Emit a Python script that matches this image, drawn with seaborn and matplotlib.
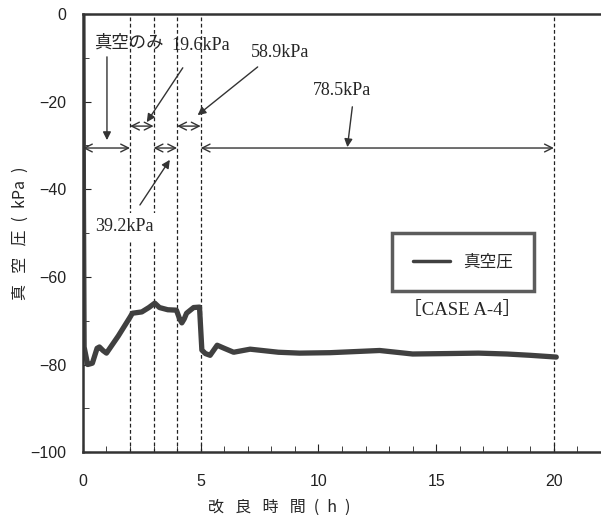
import numpy as np
import pandas as pd
import matplotlib
matplotlib.use("Agg")
import matplotlib.pyplot as plt
import seaborn as sns

# vacuum pressure curve (time h, pressure kPa)
time_h = [0.0, 0.02, 0.05, 0.2, 0.4, 0.6, 0.7, 0.85, 1.0, 1.5, 2.0, 2.1, 2.5, 2.8, 3.05,
          3.25, 3.6, 3.97, 4.1, 4.2, 4.3, 4.4, 4.7, 4.95, 5.05, 5.2, 5.4, 5.7, 6.0,
          6.4, 7.1, 8.3, 9.2, 10.5, 12.6, 14.0, 15.5, 16.8, 18.0, 19.0, 20.1]
pressure = [0.0, -40.0, -76.0, -80.0, -79.7, -76.3, -76.0, -76.8, -77.4, -73.5, -69.2,
            -68.3, -68.0, -67.0, -66.0, -67.0, -67.5, -67.6, -69.5, -70.5, -69.6, -68.3,
            -67.0, -66.9, -76.7, -77.5, -77.9, -75.6, -76.3, -77.2, -76.5, -77.2, -77.4,
            -77.3, -76.8, -77.6, -77.5, -77.4, -77.6, -77.9, -78.3]
stage_bounds = [2, 3, 4, 5, 20]
stage_labels = ["真空のみ", "19.6kPa", "39.2kPa", "58.9kPa", "78.5kPa"]

df = pd.DataFrame({"t": time_h, "p": pressure})

sns.set_style("ticks")
plt.rcParams["font.family"] = ["Noto Sans CJK JP", "DejaVu Sans"]
serif = ["Liberation Serif", "DejaVu Serif"]

fig = plt.figure(figsize=(6.01, 5.15), dpi=100)
ax = fig.add_axes([0.138, 0.122, 0.862, 0.851])

sns.lineplot(data=df, x="t", y="p", sort=False, color="#404040", lw=3.8,
             label="真空圧", ax=ax)

for b in stage_bounds:
    ax.axvline(b, color="#222222", lw=0.9, ls=(0, (3, 2)), zorder=1)

ax.set_xlim(0, 22)
ax.set_ylim(-100, 0)
ax.set_xticks([0, 5, 10, 15, 20])
ax.set_xticks(range(0, 23), minor=True)
ax.set_yticks(range(-100, 1, 20))
ax.set_yticks(range(-100, 1, 10), minor=True)
ax.tick_params(which="both", direction="in", colors="#222222", labelsize=11.5)
ax.tick_params(axis="x", which="major", length=6, pad=16)
ax.tick_params(axis="x", which="minor", length=4)
ax.tick_params(axis="y", which="major", length=6, pad=12)
ax.tick_params(axis="y", which="minor", length=4)
for lab in ax.get_xticklabels() + ax.get_yticklabels():
    lab.set_family(["Liberation Sans", "DejaVu Sans"])
ax.set_yticklabels(["−100", "−80", "−60", "−40", "−20", "0"])

for s in ["left", "bottom", "top"]:
    ax.spines[s].set_linewidth(1.8)
    ax.spines[s].set_color("#333333")
ax.spines["right"].set_visible(False)

sep = "\u2002\u2009"
ax.set_xlabel(sep.join(["改", "良", "時", "間"]) + "\u2002(\u2002h\u2002)", fontsize=11.5)
ax.xaxis.set_label_coords(0.378, -0.106)
ax.set_ylabel(sep.join(["真", "空", "圧"]) + "\u2002(\u2002kPa\u2002)", fontsize=11.5)
ax.yaxis.set_label_coords(-0.104, 0.5)

# stage double arrows
dbl = dict(arrowstyle="<->", color="#333333", lw=1.0, mutation_scale=14,
           shrinkA=0, shrinkB=0)
for x0, x1, y in [(0, 2, -30.6), (3, 4, -30.6), (5, 20, -30.6),
                  (2, 3, -25.6), (4, 5, -25.6)]:
    ax.annotate("", xy=(x1, y), xytext=(x0, y), arrowprops=dbl)

ptr = dict(arrowstyle="-|>", color="#333333", lw=1.0, mutation_scale=12,
           shrinkA=0, shrinkB=0)
ax.annotate("", xy=(1.02, -28.8), xytext=(1.02, -9.8), arrowprops=ptr)
ax.text(1.95, -6.6, stage_labels[0], fontsize=12.5, ha="center", va="center")
ax.annotate("", xy=(2.71, -24.7), xytext=(4.24, -12.3), arrowprops=ptr)
ax.text(5.02, -7.1, stage_labels[1], family=serif, fontsize=13, ha="center", va="center")
ax.annotate("", xy=(3.69, -33.3), xytext=(2.42, -43.6), arrowprops=ptr)
ax.text(1.78, -48.6, stage_labels[2], family=serif, fontsize=13, ha="center", va="center",
        bbox=dict(fc="white", ec="none", pad=4))
ax.annotate("", xy=(4.87, -23.1), xytext=(7.42, -12.1), arrowprops=ptr)
ax.text(8.35, -8.7, stage_labels[3], family=serif, fontsize=13, ha="center", va="center")
ax.annotate("", xy=(11.23, -30.4), xytext=(11.44, -21.2), arrowprops=ptr)
ax.text(11.0, -17.4, stage_labels[4], family=serif, fontsize=13, ha="center", va="center")

ax.text(16.1, -67.6, "［CASE A-4］", family=["Liberation Serif", "Noto Sans CJK JP"],
        fontsize=13.5, ha="center", va="center")

leg = ax.legend(loc="center", bbox_to_anchor=(0.734, 0.434), fontsize=12,
                frameon=True, fancybox=False, borderpad=1.25, handlelength=2.2,
                handletextpad=0.8, borderaxespad=0)
leg.get_frame().set_linewidth(2.5)
leg.get_frame().set_edgecolor("#333333")
for h in leg.get_lines():
    h.set_linewidth(2.5)

fig.savefig("out.png", dpi=100)
